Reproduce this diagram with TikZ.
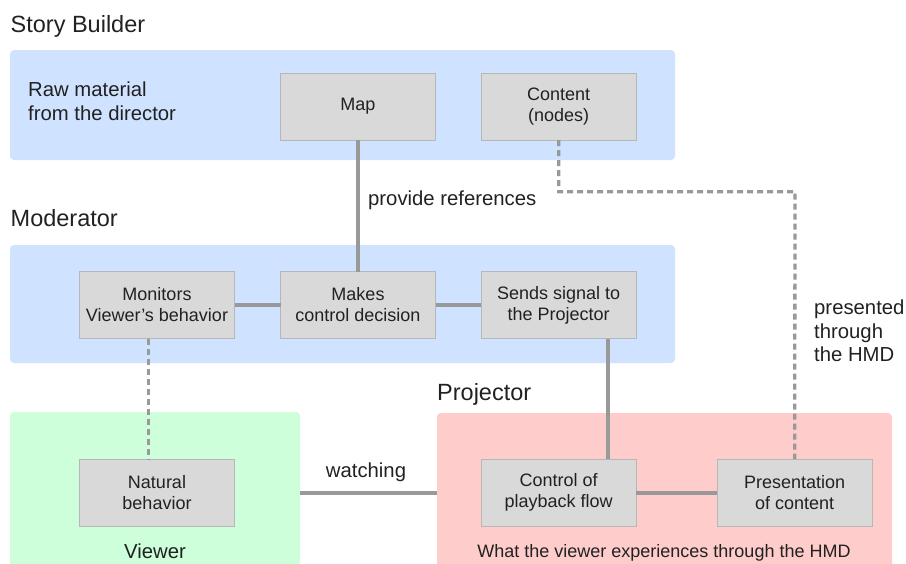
\documentclass[tikz,border=0pt]{standalone}
\usepackage{fontspec}
\setmainfont{Liberation Sans}
\definecolor{sbblue}{HTML}{CFE2FF}
\definecolor{viewgreen}{HTML}{CCFFDA}
\definecolor{projpink}{HTML}{FFCCCC}
\definecolor{boxfill}{HTML}{D9D9D9}
\definecolor{boxline}{HTML}{B7B7B7}
\definecolor{linkgray}{HTML}{999999}
\definecolor{ink}{HTML}{212121}
\newcommand{\titlefont}{\fontsize{23.5}{27}\selectfont}
\newcommand{\boxfont}{\fontsize{18}{21}\selectfont}
\newcommand{\notefont}{\fontsize{20.3}{23.5}\selectfont}
\newcommand{\smallnotefont}{\fontsize{18}{21}\selectfont}
\tikzset{
  panel/.style={rounded corners=4pt, inner sep=0pt, outer sep=0pt, anchor=north west},
  stepbox/.style={draw=boxline, fill=boxfill, line width=1pt, minimum width=155pt,
    minimum height=67pt, align=center, font=\boxfont, text=ink, inner sep=0pt, outer sep=0pt},
  title/.style={font=\titlefont, text=ink, anchor=base west, inner sep=0pt},
  note/.style={font=\notefont, text=ink, inner sep=0pt},
  link/.style={draw=linkgray, line width=4pt},
  dashlink/.style={draw=linkgray, line width=3.3pt, dash pattern=on 6pt off 4pt},
}
\begin{document}
\begin{tikzpicture}[x=1pt,y=-1pt]
\useasboundingbox (0,0) rectangle (906,563);
\clip (0,0) rectangle (906,563);

% group panels
\node[panel, fill=sbblue, minimum width=665pt, minimum height=110pt] (sbpanel) at (10,50) {};
\node[panel, fill=sbblue, minimum width=665pt, minimum height=118pt] (modpanel) at (10,245) {};
\node[panel, fill=viewgreen, minimum width=290pt, minimum height=170pt] (viewpanel) at (10,412) {};
\node[panel, fill=projpink, minimum width=455pt, minimum height=170pt] (projpanel) at (437,413) {};

% group titles
\node[title] (sbtitle) at (10.5,32) {Story Builder};
\node[title] (modtitle) at (10.5,226) {Moderator};
\node[title] (projtitle) at (437,400) {Projector};

% Story Builder (base anchor of a multi-line node sits on its last line)
\node[note, anchor=base west, align=left] (raw) at (28,120) {Raw material\\from the director};
\node[stepbox] (map) at (358,106.5) {Map};
\node[stepbox] (content) at (558.7,106.5) {Content\\(nodes)};

% Moderator
\node[stepbox] (monitors) at (157,305) {Monitors\\Viewer’s behavior};
\node[stepbox] (makes) at (358,305) {Makes\\control decision};
\node[stepbox] (sends) at (558.7,305) {Sends signal to\\the Projector};

% Viewer
\node[stepbox] (natural) at (157,492.7) {Natural\\behavior};
\node[note, anchor=base] (viewerlbl) at (155,558) {Viewer};

% Projector
\node[stepbox] (control) at (558.7,492.7) {Control of\\playback flow};
\node[stepbox] (present) at (794.7,492.7) {Presentation\\of content};
\node[note, font=\smallnotefont, anchor=base] (hmdlbl) at (664,557) {What the viewer experiences through the HMD};

% connectors
\draw[link] (map.south) -- (makes.north);
\draw[link] (monitors.east) -- (makes.west);
\draw[link] (makes.east) -- (sends.west);
\draw[link] ([xshift=49pt]sends.south) -- ([xshift=49pt]control.north);
\draw[link] (control.east) -- (present.west);
\draw[link] (natural -| viewpanel.east) -- (natural -| projpanel.west);
\coordinate (bend) at (795,191.7);
\draw[dashlink] (content.south) |- (bend) -- (present.north);
\draw[dashlink] ([xshift=-8.7pt]monitors.south) -- ([xshift=-8.7pt]natural.north);

% connector labels
\node[note, anchor=base west] (provlbl) at (368,205.5) {provide references};
\node[note, anchor=base] (watchlbl) at (366,477) {watching};
\node[note, anchor=base west, align=left] (preslbl) at (814,361.5) {presented\\through\\the HMD};
\end{tikzpicture}
\end{document}
